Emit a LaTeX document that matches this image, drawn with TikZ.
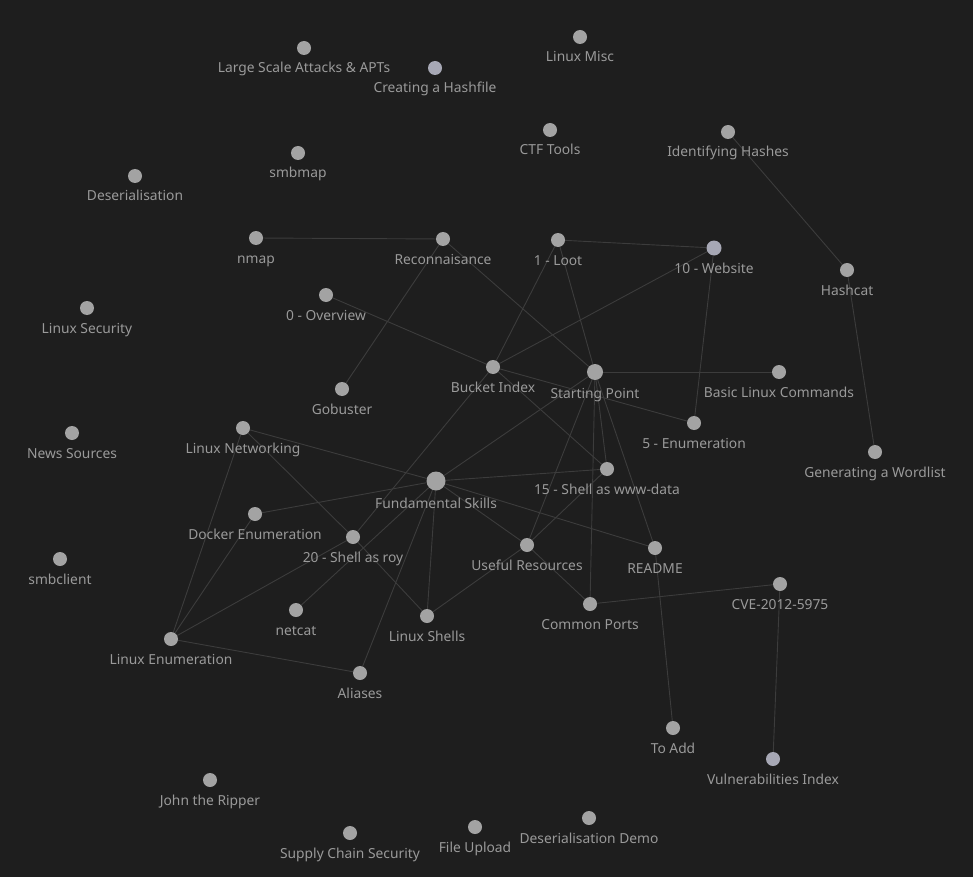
\documentclass[tikz,border=0pt]{standalone}
\usepackage{fontspec}
\setmainfont{Noto Sans}
\usetikzlibrary{backgrounds}
\definecolor{bg}{HTML}{1E1E1E}
\definecolor{nd}{HTML}{A3A3A3}
\definecolor{nb}{HTML}{A7A8B5}
\definecolor{txt}{HTML}{9A9A9A}
\definecolor{edge}{HTML}{3C3C3C}
\begin{document}
\begin{tikzpicture}[x=1pt,y=-1pt,
  dot/.style={circle,inner sep=0pt,fill=#1},
  lbl/.style={text=txt,font=\fontsize{13.8}{15}\selectfont,anchor=base,inner sep=0pt},
  link/.style={draw=edge,line width=0.9pt}]
\useasboundingbox (0,0) rectangle (973,877);
% notes: name/x/y/radius/colour/title
\foreach \n/\x/\y/\r/\c/\t in {
  lsa/304/48/7/nd/Large Scale Attacks \& APTs,
  hashfile/435/68/7/nb/Creating a Hashfile,
  misc/580/37/7/nd/Linux Misc,
  ctf/550/130/7/nd/CTF Tools,
  idhash/728/132/7/nd/Identifying Hashes,
  smbmap/298/153/7/nd/smbmap,
  deser/135/176/7/nd/Deserialisation,
  nmap/256/238/7/nd/nmap,
  recon/443/239/7/nd/Reconnaisance,
  loot/558/240/7/nd/1 - Loot,
  web/714/248/7.5/nb/10 - Website,
  hashcat/847/270/7/nd/Hashcat,
  overview/326/295/7/nd/0 - Overview,
  linsec/87/308/7/nd/Linux Security,
  bucket/493/367/7/nd/Bucket Index,
  sp/595/372/8/nd/Starting Point,
  basic/779/372/7/nd/Basic Linux Commands,
  gobuster/342/389/7/nd/Gobuster,
  enum5/694/423/7/nd/5 - Enumeration,
  lnet/243/428/7/nd/Linux Networking,
  news/72/433/7/nd/News Sources,
  wordlist/875/452/7/nd/Generating a Wordlist,
  fs/436/481/9.5/nd/Fundamental Skills,
  www/607/469/7/nd/15 - Shell as www-data,
  docker/255/514/7/nd/Docker Enumeration,
  roy/353/537/7/nd/20 - Shell as roy,
  useful/527/545/7/nd/Useful Resources,
  readme/655/548/7/nd/README,
  smbclient/60/559/7/nd/smbclient,
  cve/780/584/7/nd/CVE-2012-5975,
  ports/590/604/7/nd/Common Ports,
  netcat/296/610/7/nd/netcat,
  shells/427/616/7/nd/Linux Shells,
  linenum/171/639/7/nd/Linux Enumeration,
  aliases/360/673/7/nd/Aliases,
  toadd/673/728/7/nd/To Add,
  vuln/773/759/7/nb/Vulnerabilities Index,
  john/210/780/7/nd/John the Ripper,
  supply/350/833/7/nd/Supply Chain Security,
  upload/475/827/7/nd/File Upload,
  demo/589/818/7/nd/Deserialisation Demo}{
  \node[dot=\c,minimum size=2*\r] (\n) at (\x,\y) {};
  \node[lbl] (\n-t) at (\x,\y+\r+18) {\t};
}
\begin{scope}[on background layer]
\fill[bg] (0,0) rectangle (973,877);
\foreach \a/\b in {nmap/recon,recon/gobuster,recon/sp,overview/bucket,
  loot/web,loot/bucket,loot/sp,web/bucket,web/enum5,idhash/hashcat,
  hashcat/wordlist,sp/basic,bucket/enum5,bucket/www,bucket/roy,
  sp/www,sp/fs,sp/useful,sp/ports,sp/readme,fs/www,fs/readme,fs/useful,
  fs/lnet,fs/docker,fs/netcat,fs/aliases,fs/shells,lnet/roy,lnet/linenum,
  docker/linenum,linenum/roy,linenum/aliases,roy/shells,shells/useful,
  useful/www,useful/ports,ports/cve,cve/vuln,readme/toadd}
  \draw[link] (\a) -- (\b);
\end{scope}
\end{tikzpicture}
\end{document}
